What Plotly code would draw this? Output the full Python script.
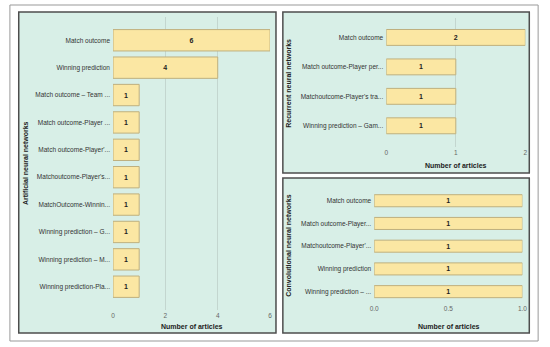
import plotly.graph_objects as go

W, H = 550, 347

# ---------------- data ----------------
ann_categories = [
    "Match outcome",
    "Winning prediction",
    "Match outcome – Team ...",
    "Match outcome-Player ...",
    "Match outcome-Player'...",
    "Matchoutcome-Player's...",
    "MatchOutcome-Winnin...",
    "Winning prediction – G...",
    "Winning prediction – M...",
    "Winning prediction-Pla...",
]
ann_values = [6, 4, 1, 1, 1, 1, 1, 1, 1, 1]

rnn_categories = [
    "Match outcome",
    "Match outcome-Player per...",
    "Matchoutcome-Player's tra...",
    "Winning prediction – Gam...",
]
rnn_values = [2, 1, 1, 1]

cnn_categories = [
    "Match outcome",
    "Match outcome-Player...",
    "Matchoutcome-Player'...",
    "Winning prediction",
    "Winning prediction – ...",
]
cnn_values = [1, 1, 1, 1, 1]

ann_ticks = [0, 2, 4, 6]
rnn_ticks = [0, 1, 2]
cnn_ticks = [0.0, 0.5, 1.0]
cnn_ticklabels = ["0.0", "0.5", "1.0"]

x_title = "Number of articles"
panel_titles = ["Artificial neural networks", "Recurrent neural networks",
                "Convolutional neural networks"]

# ---------------- style ----------------
FONT = "Liberation Sans"
MINT = "#d8efe7"
BAR = "#fbe7a3"
BAR_LINE = "#bfb07e"
PANEL_LINE = "#4d4d4d"
GRID = "#c3d6cf"


def px(x):
    return x / W


def py(y):
    return 1 - y / H


fig = go.Figure()


def add_bar(cats, vals, xa, ya, width):
    fig.add_trace(go.Bar(
        y=cats, x=vals, orientation="h", xaxis=xa, yaxis=ya, width=width,
        marker=dict(color=BAR, line=dict(color=BAR_LINE, width=1)),
        text=[str(v) for v in vals], texttemplate="<b>%{text}</b>", textposition="inside",
        insidetextanchor="middle", textangle=0, constraintext="none",
        textfont=dict(family=FONT, size=7, color="#222"),
        hoverinfo="skip", showlegend=False, cliponaxis=False,
    ))


add_bar(ann_categories, ann_values, "x", "y", 0.78)
add_bar(rnn_categories, rnn_values, "x2", "y2", 0.54)
add_bar(cnn_categories, cnn_values, "x3", "y3", 0.53)

tickfont_y = dict(family=FONT, size=6.5, color="#333")
tickfont_x = dict(family=FONT, size=6.5, color="#666")


def xaxis(domain, anchor, rng, ticks, ticktext=None, grid=True):
    d = dict(domain=domain, anchor=anchor, range=rng, tickmode="array",
             tickvals=ticks, ticktext=ticktext if ticktext else [str(t) for t in ticks],
             showgrid=grid, gridcolor=GRID, gridwidth=1, zeroline=False,
             showline=False, ticks="", tickfont=tickfont_x, fixedrange=True)
    return d


def yaxis(domain, anchor, cats, rng):
    return dict(domain=domain, anchor=anchor, type="category",
                categoryorder="array", categoryarray=cats, range=rng,
                showgrid=False, zeroline=False, showline=False, ticks="",
                tickfont=tickfont_y, ticklabelstandoff=2, fixedrange=True)


fig.update_layout(
    width=W, height=H,
    margin=dict(l=0, r=0, t=0, b=0),
    paper_bgcolor="white", plot_bgcolor="rgba(0,0,0,0)",
    font=dict(family=FONT),
    xaxis=xaxis([px(110), px(270)], "y", [0, 6], ann_ticks),
    yaxis=yaxis([py(310), py(17)], "x", ann_categories, [9.85, -0.85]),
    xaxis2=xaxis([px(388.3), px(530)], "y2", [0, 2], rnn_ticks),
    yaxis2=yaxis([py(147), py(18)], "x2", rnn_categories, [3.72, -0.66]),
    xaxis3=xaxis([px(376), px(527)], "y3", [0, 1], cnn_ticks, cnn_ticklabels, grid=False),
    yaxis3=yaxis([py(303), py(188)], "x3", cnn_categories, [4.5, -0.56]),
)

shapes = [
    dict(type="rect", xref="paper", yref="paper", x0=px(5), x1=px(543), y0=py(341), y1=py(5),
         line=dict(color="#999999", width=1), fillcolor="rgba(0,0,0,0)", layer="below"),
]
for (x0, y0, x1, y1) in [(14, 12, 276, 333), (283, 12, 534, 173), (283, 178, 534, 333)]:
    shapes.append(dict(type="rect", xref="paper", yref="paper",
                       x0=px(x0), x1=px(x1), y0=py(y1), y1=py(y0),
                       line=dict(color=PANEL_LINE, width=1.5), fillcolor=MINT, layer="below"))
fig.update_layout(shapes=shapes)

title_font = dict(family=FONT, size=7, color="#222")
annotations = []
for (x, y) in [(190, 326), (459, 165), (452, 326)]:
    annotations.append(dict(text=f"<b>{x_title}</b>", x=px(x), y=py(y), xref="paper", yref="paper",
                            showarrow=False, xanchor="center", yanchor="middle", font=title_font))
for t, (x, y) in zip(panel_titles, [(21, 163.5), (289, 83), (288, 246)]):
    annotations.append(dict(text=f"<b>{t}</b>", x=px(x), y=py(y), xref="paper", yref="paper",
                            showarrow=False, xanchor="center", yanchor="middle", textangle=-90,
                            font=title_font))
fig.update_layout(annotations=annotations)

fig.write_html("out.html", config={"displayModeBar": False},
               post_script="document.body.style.margin='0px';")
